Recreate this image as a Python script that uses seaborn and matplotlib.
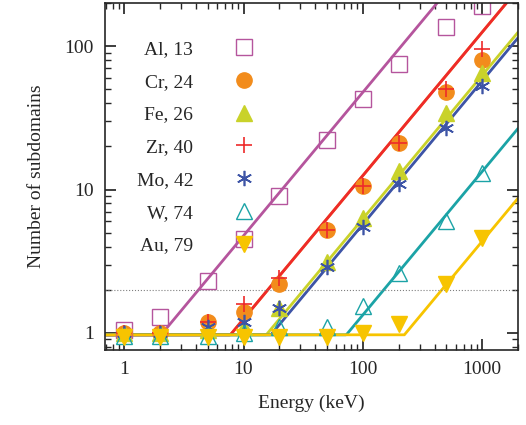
import numpy as np
import matplotlib
matplotlib.use('Agg')
import matplotlib.pyplot as plt
import seaborn as sns

energy = [1, 2, 5, 10, 20, 50, 100, 200, 500, 1000]
labels = ['Al, 13', 'Cr, 24', 'Fe, 26', 'Zr, 40', 'Mo, 42', 'W, 74', 'Au, 79']
al = [1.05, 1.3, 2.3, 4.5, 9, 22, 43, 75, 135, 190]
cr = [1.0, 1.0, 1.2, 1.4, 2.2, 5.2, 10.5, 21, 48, 80]
fe = [1.0, 1.0, 1.05, 1.1, 1.5, 3.1, 6.3, 13.5, 34, 65]
zr = [1.0, 1.0, 1.2, 1.6, 2.4, 5.2, 10.5, 21, 50, 95]
mo = [1.0, 1.0, 1.1, 1.2, 1.5, 2.9, 5.5, 11, 27, 53]
w = [0.95, 0.95, 0.95, 1.0, 1.1, 1.1, 1.55, 2.6, 6, 13]
au = [0.93, 0.93, 0.93, 0.93, 0.93, 0.93, 1.0, 1.15, 2.2, 4.6]
# threshold energy of each fit line: N = max(1, E / E0)
thresholds = [2.1, 8.0, 16.0, 8.0, 17.5, 75.0, 230.0]

series = [al, cr, fe, zr, mo, w, au]
colors = ['#b5559d', '#f28c1c', '#c9d22a', '#ee2a2a', '#3d54a6', '#1ba3a6', '#f7c400']
markers = ['s', 'o', '^', '+', '*', '^', 'v']
filled = [False, True, True, True, True, False, True]
sizes = [11, 11, 12, 11, 11, 12, 12]

sns.set_theme(style="ticks")
plt.rcParams['font.family'] = ['Liberation Serif', 'DejaVu Serif']

fig = plt.figure(figsize=(5.26, 4.25), dpi=100)
ax = fig.add_axes([105/526, 75/425, 413/526, 347/425])

xs = np.logspace(np.log10(0.7), np.log10(2000), 400)
for thr, col in zip(thresholds, colors):
    sns.lineplot(x=xs, y=np.maximum(0.97, xs / thr), color=col, lw=2.0, ax=ax)

ax.axhline(2, color='gray', ls=':', lw=0.8)

for ys, lab, col, m, f, s in zip(series, labels, colors, markers, filled, sizes):
    if m == '*':
        ax.plot(energy, ys, ls='none', marker=(6, 2, 0), ms=s, mec=col, mew=1.2,
                color=col, label=lab)
    elif m == '+':
        ax.plot(energy, ys, ls='none', marker='+', ms=s, mec=col, mew=1.2,
                color=col, label=lab)
    else:
        ax.plot(energy, ys, ls='none', marker=m, ms=s, mec=col, mew=1.0,
                mfc=col if f else 'none', color=col, label=lab)

ax.set_xscale('log')
ax.set_yscale('log')
ax.set_xlim(0.69, 2000)
ax.set_ylim(0.76, 200)
ax.set_xticks([1, 10, 100, 1000])
ax.set_xticklabels(['1', '10', '100', '1000'])
ax.set_yticks([1, 10, 100])
ax.set_yticklabels(['1', '10', '100'])
ax.tick_params(which='both', direction='in', top=True, right=True, labelsize=14)
ax.tick_params(which='major', length=8, pad=8)
ax.tick_params(which='minor', length=4)
ax.set_xlabel('Energy (keV)', fontsize=14, labelpad=12)
ax.set_ylabel('Number of subdomains', fontsize=14, labelpad=14)
for sp in ax.spines.values():
    sp.set_linewidth(1.2)

leg = ax.legend(loc='upper left', bbox_to_anchor=(0.058, 0.915), frameon=False,
                markerfirst=False, fontsize=14, handletextpad=1.6,
                labelspacing=0.78, borderaxespad=0)
for t in leg.get_texts():
    t.set_ha('left')

fig.savefig('out.png', dpi=100)
